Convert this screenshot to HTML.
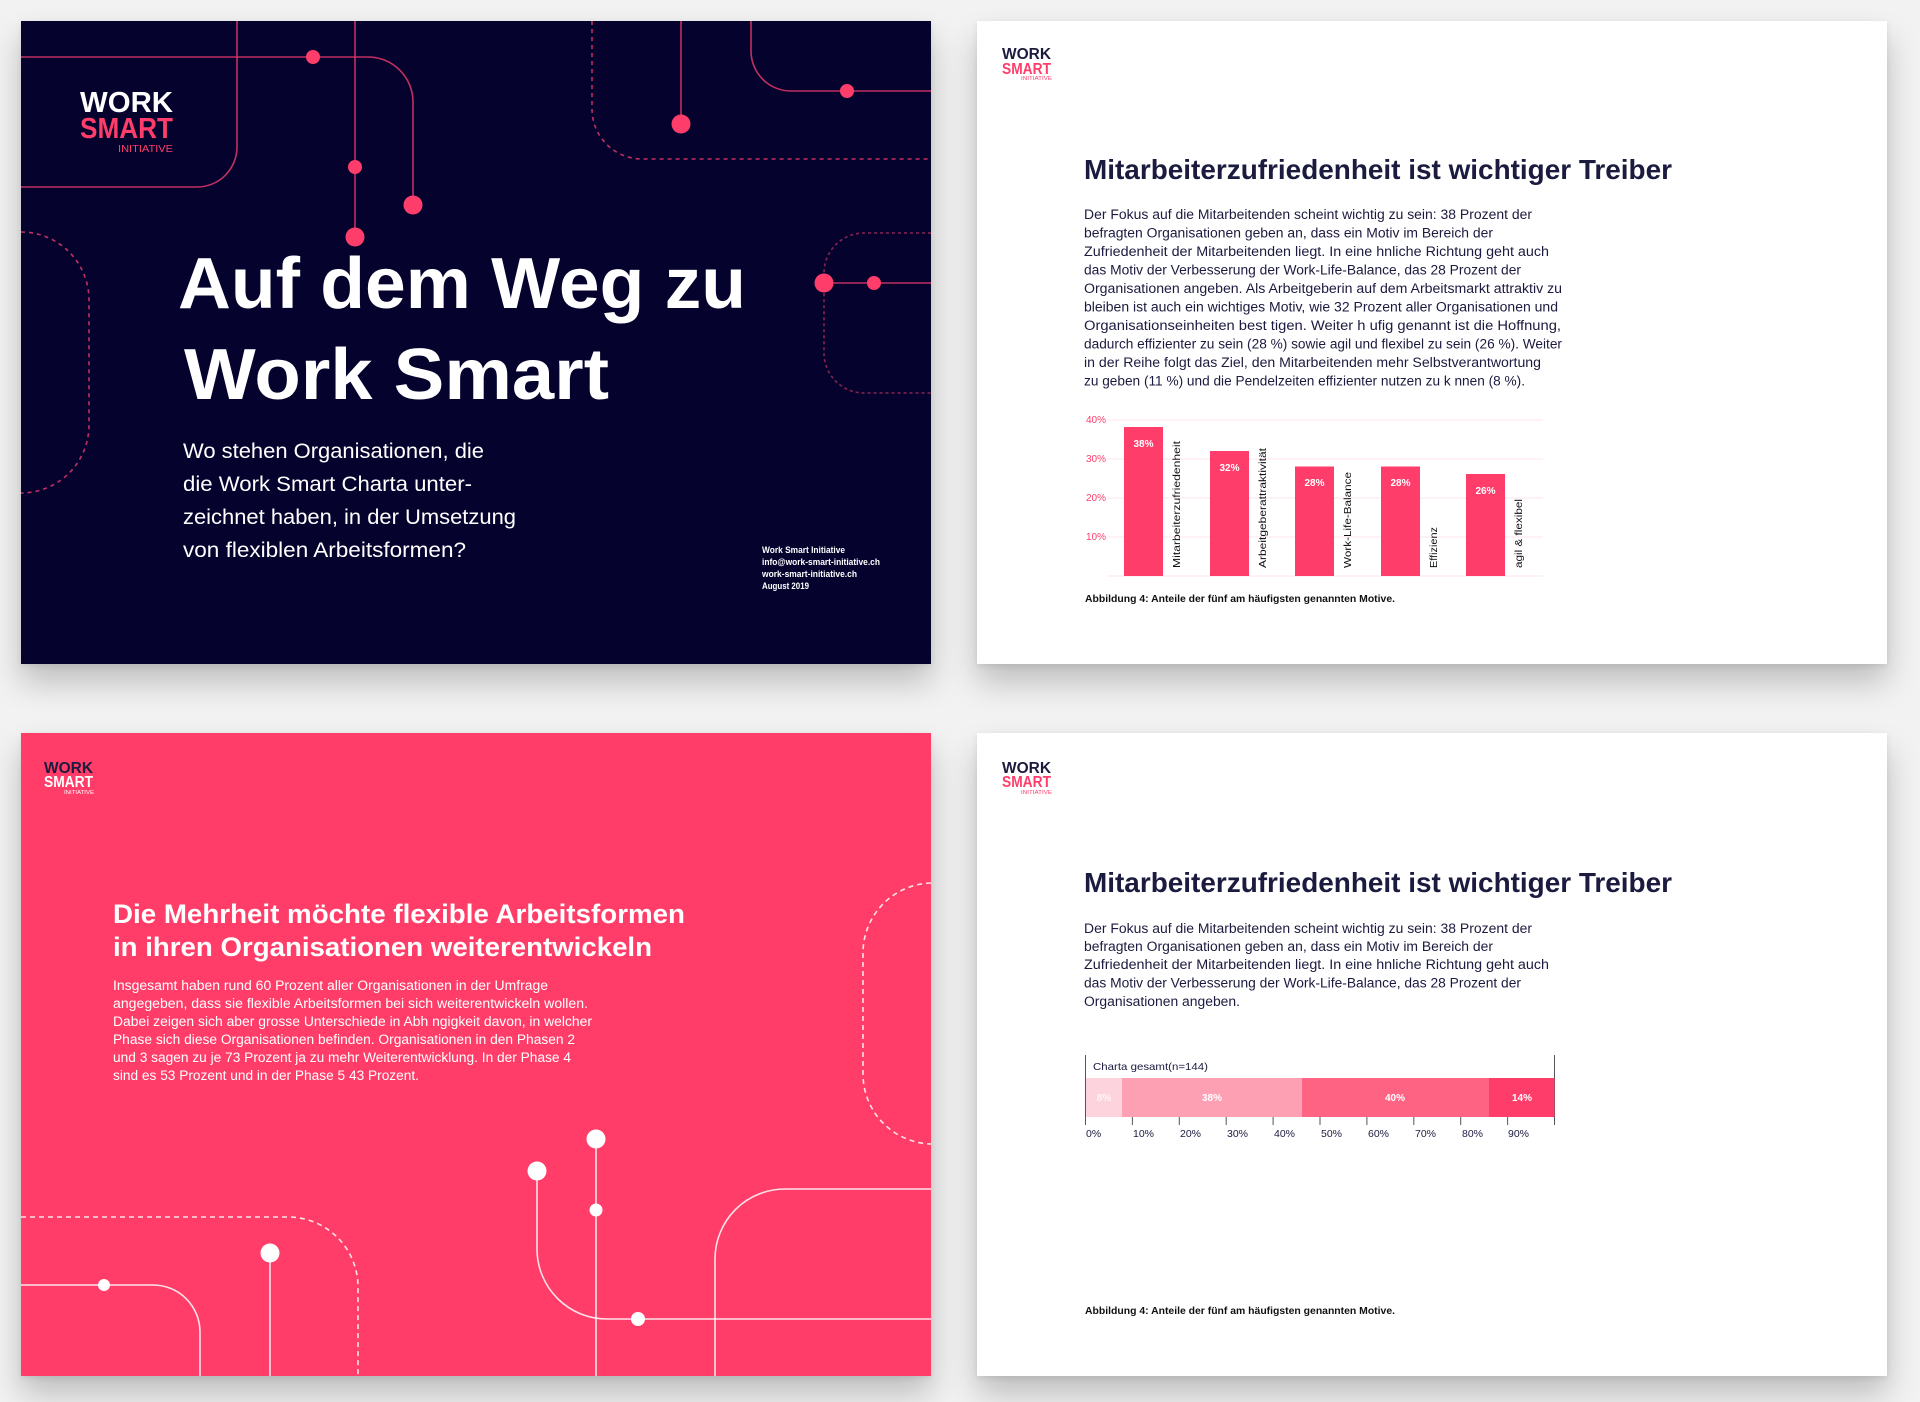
<!DOCTYPE html>
<html><head><meta charset="utf-8">
<style>
html,body{margin:0;padding:0}
body{width:1920px;height:1402px;background:#f2f2f2;position:relative;overflow:hidden;font-family:"Liberation Sans",sans-serif}
.p{position:absolute;width:910px;height:643px;box-shadow:0 18px 30px rgba(0,0,0,0.22),0 2px 6px rgba(0,0,0,0.08)}
svg{display:block}
text{font-family:"Liberation Sans",sans-serif}
</style></head><body>

<!-- Dark panel -->
<div class="p" style="left:21px;top:21px;background:#05032e">
<svg width="910" height="643" viewBox="0 0 910 643">
<g fill="none" stroke="#e0386a" stroke-width="1.6" stroke-opacity="0.85">
<path d="M0,36 H347 A45,45 0 0 1 392,81 V184"/>
<path d="M216,0 V126 A40,40 0 0 1 176,166 H0"/>
<path d="M334,0 V216"/>
<path d="M0,211 A68,68 0 0 1 68,279 V404 A68,68 0 0 1 0,472" stroke-dasharray="4 4"/>
<path d="M571,0 V88 A50,50 0 0 0 621,138 H910" stroke-dasharray="4 4"/>
<path d="M660,0 V103"/>
<path d="M730,0 V30 A40,40 0 0 0 770,70 H910"/>
<path d="M910,212 H843 A40,40 0 0 0 803,252 V332 A40,40 0 0 0 843,372 H910" stroke-dasharray="3 3" stroke-opacity="0.6"/>
<path d="M803,262 H910"/>
</g>
<g fill="#ff3d6a">
<circle cx="292" cy="36" r="7"/><circle cx="392" cy="184" r="9.5"/>
<circle cx="334" cy="146" r="7"/><circle cx="334" cy="216" r="9.5"/>
<circle cx="660" cy="103" r="9.5"/><circle cx="826" cy="70" r="7"/>
<circle cx="803" cy="262" r="9.5"/><circle cx="853" cy="262" r="7"/>
</g>
<text x="59" y="91" font-size="29" font-weight="bold" fill="#fff" textLength="93" lengthAdjust="spacingAndGlyphs">WORK</text>
<text x="59" y="117" font-size="29" font-weight="bold" fill="#ff3d6a" textLength="93" lengthAdjust="spacingAndGlyphs">SMART</text>
<text x="97" y="131" font-size="10" fill="#ff3d6a" textLength="55" lengthAdjust="spacingAndGlyphs">INITIATIVE</text>
<text x="157" y="287" font-size="72" font-weight="bold" fill="#fff" textLength="568" lengthAdjust="spacingAndGlyphs">Auf dem Weg zu</text>
<text x="163" y="378" font-size="72" font-weight="bold" fill="#fff" textLength="425" lengthAdjust="spacingAndGlyphs">Work Smart</text>
<g font-size="21" fill="#fff">
<text x="162" y="437" textLength="301" lengthAdjust="spacingAndGlyphs">Wo stehen Organisationen, die</text>
<text x="162" y="470" textLength="289" lengthAdjust="spacingAndGlyphs">die Work Smart Charta unter-</text>
<text x="162" y="503" textLength="333" lengthAdjust="spacingAndGlyphs">zeichnet haben, in der Umsetzung</text>
<text x="162" y="536" textLength="283" lengthAdjust="spacingAndGlyphs">von flexiblen Arbeitsformen?</text>
</g>
<g font-size="9.5" font-weight="bold" fill="#fff">
<text x="741" y="532" textLength="83" lengthAdjust="spacingAndGlyphs">Work Smart Initiative</text>
<text x="741" y="544" textLength="118" lengthAdjust="spacingAndGlyphs">info@work-smart-initiative.ch</text>
<text x="741" y="556" textLength="95" lengthAdjust="spacingAndGlyphs">work-smart-initiative.ch</text>
<text x="741" y="568" textLength="47" lengthAdjust="spacingAndGlyphs">August 2019</text>
</g>
</svg></div>

<!-- Top-right white panel -->
<div class="p" style="left:977px;top:21px;background:#fff">
<svg width="910" height="643" viewBox="0 0 910 643">
<text x="25" y="38" font-size="16" font-weight="bold" fill="#1b1a3f" textLength="49" lengthAdjust="spacingAndGlyphs">WORK</text>
<text x="25" y="53" font-size="16" font-weight="bold" fill="#ff3d6a" textLength="49" lengthAdjust="spacingAndGlyphs">SMART</text>
<text x="44" y="59" font-size="5" fill="#ff3d6a" textLength="31" lengthAdjust="spacingAndGlyphs">INITIATIVE</text>
<text x="107" y="158" font-size="28" font-weight="bold" fill="#1b1a3f" textLength="588" lengthAdjust="spacingAndGlyphs">Mitarbeiterzufriedenheit ist wichtiger Treiber</text>
<g font-size="13.5" fill="#1b1a3f">
<text x="107" y="198" textLength="448" lengthAdjust="spacingAndGlyphs">Der Fokus auf die Mitarbeitenden scheint wichtig zu sein: 38 Prozent der</text>
<text x="107" y="216.5" textLength="409" lengthAdjust="spacingAndGlyphs">befragten Organisationen geben an, dass ein Motiv im Bereich der</text>
<text x="107" y="235" textLength="465" lengthAdjust="spacingAndGlyphs">Zufriedenheit der Mitarbeitenden liegt. In eine   hnliche Richtung geht auch</text>
<text x="107" y="253.5" textLength="437" lengthAdjust="spacingAndGlyphs">das Motiv der Verbesserung der Work-Life-Balance, das 28 Prozent der</text>
<text x="107" y="272" textLength="478" lengthAdjust="spacingAndGlyphs">Organisationen angeben. Als Arbeitgeberin auf dem Arbeitsmarkt attraktiv zu</text>
<text x="107" y="290.5" textLength="474" lengthAdjust="spacingAndGlyphs">bleiben ist auch ein wichtiges Motiv, wie 32 Prozent aller Organisationen und</text>
<text x="107" y="309" textLength="477" lengthAdjust="spacingAndGlyphs">Organisationseinheiten best  tigen. Weiter h  ufig genannt ist die Hoffnung,</text>
<text x="107" y="327.5" textLength="478" lengthAdjust="spacingAndGlyphs">dadurch effizienter zu sein (28 %) sowie agil und flexibel zu sein (26 %). Weiter</text>
<text x="107" y="346" textLength="457" lengthAdjust="spacingAndGlyphs">in der Reihe folgt das Ziel, den Mitarbeitenden mehr Selbstverantwortung</text>
<text x="107" y="364.5" textLength="441" lengthAdjust="spacingAndGlyphs">zu geben (11 %) und die Pendelzeiten effizienter nutzen zu k  nnen (8 %).</text>
</g>
<g stroke="#fde6ec" stroke-width="1">
<line x1="131" y1="399" x2="566" y2="399"/><line x1="131" y1="438" x2="566" y2="438"/>
<line x1="131" y1="477" x2="566" y2="477"/><line x1="131" y1="516" x2="566" y2="516"/>
<line x1="131" y1="555" x2="566" y2="555"/>
</g>
<g font-size="10" fill="#ff3d6a">
<text x="109" y="402">40%</text><text x="109" y="441">30%</text>
<text x="109" y="480">20%</text><text x="109" y="519">10%</text>
</g>
<g fill="#ff3d6a">
<rect x="147" y="406" width="39" height="149"/>
<rect x="233" y="430" width="39" height="125"/>
<rect x="318" y="445.5" width="39" height="109.5"/>
<rect x="404" y="445.5" width="39" height="109.5"/>
<rect x="489" y="453" width="39" height="102"/>
</g>
<g font-size="10" font-weight="bold" fill="#fff" text-anchor="middle">
<text x="166.5" y="426">38%</text><text x="252.5" y="450">32%</text>
<text x="337.5" y="465">28%</text><text x="423.5" y="465">28%</text><text x="508.5" y="473">26%</text>
</g>
<g font-size="10.5" fill="#111">
<text transform="translate(203,547) rotate(-90)" textLength="127" lengthAdjust="spacingAndGlyphs">Mitarbeiterzufriedenheit</text>
<text transform="translate(289,547) rotate(-90)" textLength="120" lengthAdjust="spacingAndGlyphs">Arbeitgeberattraktivität</text>
<text transform="translate(374,547) rotate(-90)" textLength="96" lengthAdjust="spacingAndGlyphs">Work-Life-Balance</text>
<text transform="translate(460,547) rotate(-90)" textLength="41" lengthAdjust="spacingAndGlyphs">Effizienz</text>
<text transform="translate(545,547) rotate(-90)" textLength="69" lengthAdjust="spacingAndGlyphs">agil &amp; flexibel</text>
</g>
<text x="108" y="581" font-size="10" font-weight="bold" fill="#111" textLength="310" lengthAdjust="spacingAndGlyphs">Abbildung 4: Anteile der fünf am häufigsten genannten Motive.</text>
</svg></div>

<!-- Pink panel -->
<div class="p" style="left:21px;top:733px;background:#ff3d68">
<svg width="910" height="643" viewBox="0 0 910 643">
<g fill="none" stroke="#fff" stroke-width="1.6" stroke-opacity="0.85">
<path d="M910,150 A70,70 0 0 0 842,220 V341 A70,70 0 0 0 910,411" stroke-dasharray="5 4"/>
<path d="M0,484 H267 A70,70 0 0 1 337,554 V643" stroke-dasharray="5 4"/>
<path d="M0,552 H132 A47,47 0 0 1 179,599 V643"/>
<path d="M249,520 V643"/>
<path d="M516,438 V516 A70,70 0 0 0 586,586 H910"/>
<path d="M575,406 V643"/>
<path d="M910,456 H764 A70,70 0 0 0 694,526 V643"/>
</g>
<g fill="#fff">
<circle cx="83" cy="552" r="6"/><circle cx="249" cy="520" r="9.5"/>
<circle cx="516" cy="438" r="9.5"/><circle cx="617" cy="586" r="7"/>
<circle cx="575" cy="406" r="9.5"/><circle cx="575" cy="477" r="6.5"/>
</g>
<text x="23" y="40" font-size="16" font-weight="bold" fill="#1b1a3f" textLength="49" lengthAdjust="spacingAndGlyphs">WORK</text>
<text x="23" y="54" font-size="16" font-weight="bold" fill="#fff" textLength="49" lengthAdjust="spacingAndGlyphs">SMART</text>
<text x="43" y="61" font-size="5" fill="#fff" textLength="30" lengthAdjust="spacingAndGlyphs">INITIATIVE</text>
<text x="92" y="190" font-size="27" font-weight="bold" fill="#fff" textLength="572" lengthAdjust="spacingAndGlyphs">Die Mehrheit möchte flexible Arbeitsformen</text>
<text x="92" y="223" font-size="27" font-weight="bold" fill="#fff" textLength="539" lengthAdjust="spacingAndGlyphs">in ihren Organisationen weiterentwickeln</text>
<g font-size="13.5" fill="#fff">
<text x="92" y="257" textLength="435" lengthAdjust="spacingAndGlyphs">Insgesamt haben rund 60 Prozent aller Organisationen in der Umfrage</text>
<text x="92" y="275" textLength="475" lengthAdjust="spacingAndGlyphs">angegeben, dass sie flexible Arbeitsformen bei sich weiterentwickeln wollen.</text>
<text x="92" y="293" textLength="479" lengthAdjust="spacingAndGlyphs">Dabei zeigen sich aber grosse Unterschiede in Abh  ngigkeit davon, in welcher</text>
<text x="92" y="311" textLength="462" lengthAdjust="spacingAndGlyphs">Phase sich diese Organisationen befinden. Organisationen in den Phasen 2</text>
<text x="92" y="329" textLength="458" lengthAdjust="spacingAndGlyphs">und 3 sagen zu je 73 Prozent ja zu mehr Weiterentwicklung. In der Phase 4</text>
<text x="92" y="347" textLength="306" lengthAdjust="spacingAndGlyphs">sind es 53 Prozent und in der Phase 5  43 Prozent.</text>
</g>
</svg></div>

<!-- Bottom-right white panel -->
<div class="p" style="left:977px;top:733px;background:#fff">
<svg width="910" height="643" viewBox="0 0 910 643">
<text x="25" y="40" font-size="16" font-weight="bold" fill="#1b1a3f" textLength="49" lengthAdjust="spacingAndGlyphs">WORK</text>
<text x="25" y="54" font-size="16" font-weight="bold" fill="#ff3d6a" textLength="49" lengthAdjust="spacingAndGlyphs">SMART</text>
<text x="44" y="61" font-size="5" fill="#ff3d6a" textLength="31" lengthAdjust="spacingAndGlyphs">INITIATIVE</text>
<text x="107" y="159" font-size="28" font-weight="bold" fill="#1b1a3f" textLength="588" lengthAdjust="spacingAndGlyphs">Mitarbeiterzufriedenheit ist wichtiger Treiber</text>
<g font-size="13.5" fill="#1b1a3f">
<text x="107" y="200" textLength="448" lengthAdjust="spacingAndGlyphs">Der Fokus auf die Mitarbeitenden scheint wichtig zu sein: 38 Prozent der</text>
<text x="107" y="218" textLength="409" lengthAdjust="spacingAndGlyphs">befragten Organisationen geben an, dass ein Motiv im Bereich der</text>
<text x="107" y="236" textLength="465" lengthAdjust="spacingAndGlyphs">Zufriedenheit der Mitarbeitenden liegt. In eine   hnliche Richtung geht auch</text>
<text x="107" y="254.5" textLength="437" lengthAdjust="spacingAndGlyphs">das Motiv der Verbesserung der Work-Life-Balance, das 28 Prozent der</text>
<text x="107" y="273" textLength="156" lengthAdjust="spacingAndGlyphs">Organisationen angeben.</text>
</g>
<g stroke="#555" stroke-width="1">
<line x1="108.5" y1="322" x2="108.5" y2="392"/>
<line x1="577.5" y1="322" x2="577.5" y2="392"/>
</g>
<text x="116" y="337" font-size="10.5" fill="#1b1a3f" textLength="115" lengthAdjust="spacingAndGlyphs">Charta gesamt(n=144)</text>
<rect x="109" y="345" width="36" height="39" fill="#fdd3dd"/>
<rect x="145" y="345" width="180" height="39" fill="#fda0b4"/>
<rect x="325" y="345" width="187" height="39" fill="#ff6384"/>
<rect x="512" y="345" width="65.5" height="39" fill="#ff3d6a"/>
<g font-size="10" font-weight="bold" fill="#fff" text-anchor="middle">
<text x="127" y="368" fill-opacity="0.8">8%</text><text x="235" y="368">38%</text>
<text x="418" y="368">40%</text><text x="545" y="368">14%</text>
</g>
<g stroke="#555" stroke-width="1">
<line x1="155.4" y1="384" x2="155.4" y2="392"/><line x1="202.3" y1="384" x2="202.3" y2="392"/>
<line x1="249.2" y1="384" x2="249.2" y2="392"/><line x1="296.1" y1="384" x2="296.1" y2="392"/>
<line x1="343" y1="384" x2="343" y2="392"/><line x1="389.9" y1="384" x2="389.9" y2="392"/>
<line x1="436.8" y1="384" x2="436.8" y2="392"/><line x1="483.7" y1="384" x2="483.7" y2="392"/>
<line x1="530.6" y1="384" x2="530.6" y2="392"/>
</g>
<g font-size="10.5" fill="#1b1a3f">
<text x="109" y="404">0%</text><text x="156" y="404">10%</text><text x="203" y="404">20%</text>
<text x="250" y="404">30%</text><text x="297" y="404">40%</text><text x="344" y="404">50%</text>
<text x="391" y="404">60%</text><text x="438" y="404">70%</text><text x="485" y="404">80%</text>
<text x="531" y="404">90%</text>
</g>
<text x="108" y="581" font-size="10" font-weight="bold" fill="#111" textLength="310" lengthAdjust="spacingAndGlyphs">Abbildung 4: Anteile der fünf am häufigsten genannten Motive.</text>
</svg></div>

</body></html>
